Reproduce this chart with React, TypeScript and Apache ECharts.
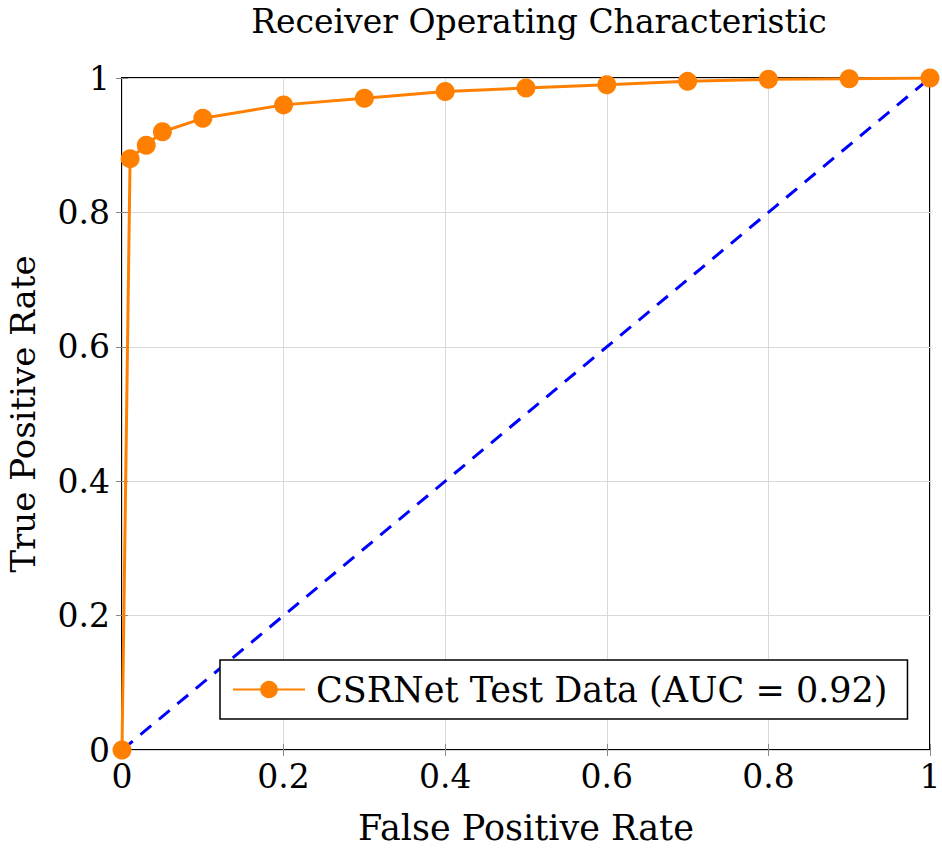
import { useEffect, useRef } from 'react';
import * as echarts from 'echarts';

const fpr = [0, 0.01, 0.03, 0.05, 0.1, 0.2, 0.3, 0.4, 0.5, 0.6, 0.7, 0.8, 0.9, 1];
const tpr = [0, 0.88, 0.9, 0.92, 0.94, 0.96, 0.97, 0.98, 0.985, 0.99, 0.995, 0.998, 0.999, 1];
const chanceX = [0, 1];
const chanceY = [0, 1];
const seriesName = 'CSRNet Test Data (AUC = 0.92)';
const titleText = 'Receiver Operating Characteristic';

const FONT = 'DejaVu Serif';
const ORANGE = '#ff8000';

export default function App() {
  const ref = useRef<HTMLDivElement>(null);

  useEffect(() => {
    if (!ref.current) return;
    const chart = echarts.init(ref.current, undefined, { renderer: 'svg' });

    const baseAxis = {
      type: 'value' as const,
      min: 0,
      max: 1,
      interval: 0.2,
      axisLine: { show: false },
      axisTick: { show: true, inside: true, length: 6, lineStyle: { color: '#888', width: 1 } },
      splitLine: { show: true, lineStyle: { color: '#d9d9d9', width: 1 } },
      axisLabel: {
        fontFamily: FONT,
        fontSize: 33,
        color: '#000',
        formatter: (v: number) => String(+v.toFixed(1)),
      },
    };

    chart.setOption({
      animation: false,
      graphic: [
        {
          type: 'text',
          x: 539,
          y: 5,
          style: {
            text: titleText,
            fontFamily: FONT,
            fontSize: 33,
            fill: '#000',
            textAlign: 'center',
          },
        },
      ],
      grid: {
        left: 122,
        right: 12,
        top: 78,
        bottom: 102,
        outerBoundsMode: 'none',
        containLabel: false,
        show: true,
        borderColor: '#000',
        borderWidth: 2,
        backgroundColor: 'transparent',
      },
      xAxis: [
        {
          ...baseAxis,
          name: 'False Positive Rate',
          nameLocation: 'middle',
          nameGap: 60,
          nameTextStyle: { fontFamily: FONT, fontSize: 35, color: '#000' },
          axisLabel: { ...baseAxis.axisLabel, margin: 10 },
        },
        {
          ...baseAxis,
          position: 'top',
          axisLabel: { show: false },
          splitLine: { show: false },
        },
      ],
      yAxis: [
        {
          ...baseAxis,
          name: 'True Positive Rate',
          nameLocation: 'middle',
          nameRotate: 90,
          nameGap: 82,
          nameTextStyle: { fontFamily: FONT, fontSize: 34, color: '#000' },
          axisLabel: { ...baseAxis.axisLabel, margin: 12 },
        },
        {
          ...baseAxis,
          position: 'right',
          axisLabel: { show: false },
          splitLine: { show: false },
        },
      ],
      legend: {
        data: [seriesName],
        left: 220,
        top: 660,
        orient: 'horizontal',
        backgroundColor: '#fff',
        borderColor: '#000',
        borderWidth: 1.5,
        borderRadius: 0,
        padding: [12, 20, 12, 12],
        itemWidth: 72,
        itemHeight: 22,
        itemGap: 0,
        textStyle: { fontFamily: FONT, fontSize: 35, color: '#000', padding: [0, 0, 0, 6] },
      },
      series: [
        {
          name: 'chance',
          type: 'line',
          data: chanceX.map((x, i) => [x, chanceY[i]]),
          symbol: 'none',
          lineStyle: { color: '#0000ff', width: 3, type: [14, 10] },
          z: 2,
          silent: true,
        },
        {
          name: seriesName,
          type: 'line',
          data: fpr.map((x, i) => [x, tpr[i]]),
          symbol: 'circle',
          symbolSize: 19,
          itemStyle: { color: ORANGE },
          lineStyle: { color: ORANGE, width: 3 },
          z: 3,
        },
      ],
    });

    return () => chart.dispose();
  }, []);

  return (
    <div
      ref={ref}
      style={{ position: 'absolute', left: 0, top: 0, width: 942, height: 852, background: '#fff' }}
    />
  );
}
